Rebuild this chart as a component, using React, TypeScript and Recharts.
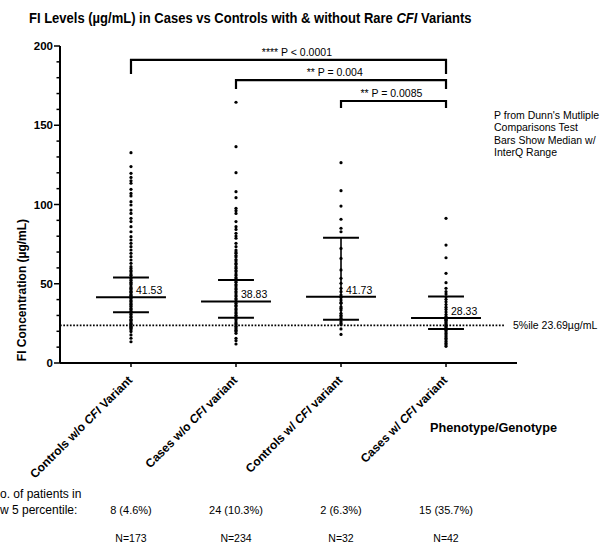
import React from "react";
import { ComposedChart, Scatter, XAxis, YAxis, ReferenceLine } from "recharts";

const FONT = "'Liberation Sans', Arial, Helvetica, sans-serif";

// ===== categories / labels =====
const labelParts = [
  ["Controls w/o ", "CFI", " Variant"],
  ["Cases w/o ", "CFI", " variant"],
  ["Controls w/ ", "CFI", " variant"],
  ["Cases w/ ", "CFI", " variant"],
];
const below5 = ["8 (4.6%)", "24 (10.3%)", "2 (6.3%)", "15 (35.7%)"];
const counts = ["N=173", "N=234", "N=32", "N=42"];

// ===== summary stats (median + IQR) =====
const medians = [41.53, 38.83, 41.73, 28.33];
const q1 = [32.0, 28.6, 27.3, 21.5];
const q3 = [54.0, 52.4, 79.0, 42.0];
const percentile5 = 23.69;

// ===== individual values =====
const controlsNoVariant = [
  132.7, 123.9, 119.7, 117.1, 115.0, 113.4, 109.6, 107.0, 105.4, 101.8, 99.7,
  96.5, 94.4, 91.3, 89.2, 86.0, 82.8, 79.7, 77.6, 75.5, 73.4, 71.3, 69.2, 67.1,
  65.0, 62.9, 60.8, 59.6, 58.3, 57.5, 56.2, 55.3, 54.0, 53.1, 52.2, 51.0, 50.1,
  49.3, 48.0, 47.2, 46.3, 45.3, 44.6, 43.5, 42.8, 41.9, 41.1, 40.5, 39.4, 38.8,
  37.8, 37.1, 36.1, 35.5, 34.4, 33.8, 32.7, 32.1, 31.0, 30.4, 29.3, 28.7, 27.6,
  26.9, 26.1, 25.1, 24.4, 23.2, 22.5, 21.9, 20.9, 19.8, 17.7, 15.6, 13.4,
];
const casesNoVariant = [
  164.5, 136.5, 120.1, 108.1, 104.3, 97.6, 96.1, 94.4, 89.2, 86.0, 84.3, 81.8,
  80.1, 78.7, 75.5, 73.4, 71.3, 70.1, 69.2, 67.8, 66.9, 65.3, 64.4, 63.0, 62.1,
  60.7, 59.8, 58.4, 57.5, 56.1, 55.2, 53.9, 53.1, 51.7, 50.9, 49.5, 48.6, 47.3,
  46.4, 45.1, 44.2, 42.9, 42.0, 40.7, 39.9, 38.6, 37.7, 36.5, 35.6, 34.3, 33.5,
  32.2, 31.3, 30.1, 29.2, 27.9, 27.1, 25.8, 24.9, 24.1, 23.2, 22.3, 21.4, 20.6,
  19.8, 18.7, 15.6, 14.1, 12.0,
];
const controlsVariant = [
  126.4, 108.7, 99.0, 90.7, 85.0, 82.8, 72.3, 66.0, 58.7, 53.4, 50.3, 47.1, 45.0,
  42.9, 41.7, 41.4, 39.7, 38.2, 37.7, 35.5, 34.6, 33.4, 31.4, 30.2, 29.2, 28.1,
  27.6, 26.1, 25.0, 24.2, 21.5, 18.0,
];
const casesVariant = [
  91.3, 74.4, 66.4, 56.6, 50.7, 47.1, 45.0, 43.5, 41.8, 40.2, 38.6, 36.9, 35.2,
  33.8, 32.1, 30.6, 29.3, 28.4, 27.6, 27.0, 26.5, 25.6, 24.7, 24.0, 23.2, 22.4,
  21.6, 20.6, 19.6, 18.6, 17.6, 16.6, 15.6, 14.6, 13.5, 12.5, 11.5, 10.5,
];
const groups = [controlsNoVariant, casesNoVariant, controlsVariant, casesVariant];

// ===== significance brackets =====
const bracketFrom = [1, 2, 3];
const bracketTo = [4, 4, 4];
const bracketTop = [191.2, 178.5, 165.3];
const bracketFoot = [182.3, 172.9, 160.9];
const bracketLabelX = [2.58, 2.94, 3.48];
const bracketLabels = ["**** P < 0.0001", "** P = 0.004", "** P = 0.0085"];

const yTicks = [0, 10, 20, 30, 40, 50, 60, 70, 80, 90, 100, 110, 120, 130, 140, 150, 160, 170, 180, 190, 200];

function YTick(props: any) {
  const { x, y, payload } = props;
  const major = payload.value % 50 === 0;
  return (
    <g>
      <line x1={x - (major ? 6 : 3.5)} x2={x} y1={y} y2={y} stroke="#000" strokeWidth={1.5} />
      {major && (
        <text x={x - 7} y={y} dy={4} textAnchor="end" fontSize={11.5} fontWeight="bold" fill="#000" fontFamily={FONT}>
          {payload.value}
        </text>
      )}
    </g>
  );
}

function XTick(props: any) {
  const { x, y, payload } = props;
  const i = payload.value - 1;
  const [a, b, c] = labelParts[i];
  const ax = x + 2;
  const ay = y + 18;
  return (
    <g fontFamily={FONT} fill="#000">
      <line x1={x} x2={x} y1={y} y2={y + 4} stroke="#000" strokeWidth={1.5} />
      <text x={ax} y={ay} textAnchor="end" transform={`rotate(-45 ${ax} ${ay})`} fontSize={12} fontWeight="bold">
        <tspan>{a}</tspan>
        <tspan fontStyle="italic">{b}</tspan>
        <tspan>{c}</tspan>
      </text>
      <text x={x} y={514} textAnchor="middle" fontSize={11}>{below5[i]}</text>
      <text x={x} y={541.5} textAnchor="middle" fontSize={10.5}>{counts[i]}</text>
    </g>
  );
}

const dot = (p: any) => <circle cx={p.cx} cy={p.cy} r={1.6} fill="#000" />;
const none = () => <g />;

export default function App() {
  const medianPts = medians.map((m, i) => ({ x: i + 1, y: m, label: m.toFixed(2) }));
  const bracketLabelPts = bracketLabels.map((l, i) => ({ x: bracketLabelX[i], y: bracketTop[i], label: l }));

  return (
    <div style={{ position: "absolute", left: 0, top: 0, width: 600, height: 544, background: "#fff", fontFamily: FONT }}>
      <ComposedChart width={600} height={544} margin={{ top: 46, right: 83, bottom: 0, left: 0 }}>
        <XAxis
          type="number"
          dataKey="x"
          domain={[0.324, 4.676]}
          ticks={[1, 2, 3, 4]}
          interval={0}
          tick={<XTick />}
          tickLine={false}
          tickSize={0}
          tickMargin={0}
          height={181}
          axisLine={{ stroke: "#000", strokeWidth: 2 }}
        />
        <YAxis
          type="number"
          dataKey="y"
          domain={[0, 200]}
          ticks={yTicks}
          interval={0}
          tick={<YTick />}
          tickLine={false}
          tickSize={0}
          tickMargin={0}
          width={60}
          axisLine={{ stroke: "#000", strokeWidth: 2 }}
        />

        {/* 5th percentile */}
        <ReferenceLine
          segment={[{ x: 0.324, y: percentile5 }, { x: 4.562, y: percentile5 }]}
          stroke="#000"
          strokeWidth={1.8}
          strokeDasharray="1.7 1.6"
        />

        {/* dots */}
        {groups.map((g, i) => (
          <Scatter
            key={i}
            data={g.map((v) => ({ x: i + 1, y: v }))}
            shape={dot}
            isAnimationActive={false}
          />
        ))}

        {/* median + IQR */}
        {medians.map((m, i) => (
          <ReferenceLine key={"m" + i} segment={[{ x: i + 1 - 0.333, y: m }, { x: i + 1 + 0.333, y: m }]} stroke="#000" strokeWidth={2} />
        ))}
        {q1.map((v, i) => (
          <ReferenceLine key={"q1" + i} segment={[{ x: i + 1 - 0.171, y: v }, { x: i + 1 + 0.171, y: v }]} stroke="#000" strokeWidth={2} />
        ))}
        {q3.map((v, i) => (
          <ReferenceLine key={"q3" + i} segment={[{ x: i + 1 - 0.171, y: v }, { x: i + 1 + 0.171, y: v }]} stroke="#000" strokeWidth={2} />
        ))}
        {q1.map((v, i) => (
          <ReferenceLine key={"iq" + i} segment={[{ x: i + 1, y: v }, { x: i + 1, y: q3[i] }]} stroke="#000" strokeWidth={1.6} />
        ))}
        <Scatter
          data={medianPts}
          isAnimationActive={false}
          shape={(p: any) => (
            <text x={p.cx + 5} y={p.cy - 3} fontSize={10.5} fill="#000" fontFamily={FONT}>
              {p.payload.label}
            </text>
          )}
        />

        {/* brackets */}
        {bracketFrom.map((f, i) => (
          <Scatter
            key={"b" + i}
            data={[
              { x: f, y: bracketFoot[i] },
              { x: f, y: bracketTop[i] },
              { x: bracketTo[i], y: bracketTop[i] },
              { x: bracketTo[i], y: bracketFoot[i] },
            ]}
            line={{ stroke: "#000", strokeWidth: 2.2, fill: "none" }}
            lineType="joint"
            shape={none}
            isAnimationActive={false}
          />
        ))}
        <Scatter
          data={bracketLabelPts}
          isAnimationActive={false}
          shape={(p: any) => (
            <text x={p.cx} y={p.cy - 4} textAnchor="middle" fontSize={10.5} fill="#000" fontFamily={FONT}>
              {p.payload.label}
            </text>
          )}
        />

        {/* 5%ile label */}
        <Scatter
          data={[{ x: 4.638, y: percentile5 }]}
          isAnimationActive={false}
          shape={(p: any) => (
            <text x={p.cx} y={p.cy} dy={3.8} fontSize={10.5} fill="#000" fontFamily={FONT}>
              5%ile 23.69µg/mL
            </text>
          )}
        />
      </ComposedChart>

      <svg width={600} height={544} style={{ position: "absolute", left: 0, top: 0, pointerEvents: "none" }} fontFamily={FONT} fill="#000">
        <g transform="translate(29 23.4) scale(0.868 1)">
          <text x={0} y={0} fontSize={15} fontWeight="bold">
            FI Levels (µg/mL) in Cases vs Controls with &amp; without Rare <tspan fontStyle="italic">CFI</tspan> Variants
          </text>
        </g>
        <text x={22} y={290} fontSize={12} fontWeight="bold" textAnchor="middle" dy={4} transform="rotate(-90 22 290)">
          FI Concentration (µg/mL)
        </text>
        <text x={430} y={431.5} fontSize={13} fontWeight="bold" textLength={127} lengthAdjust="spacingAndGlyphs">
          Phenotype/Genotype
        </text>
        <g fontSize={10.5}>
          <text x={494} y={118.7}>P from Dunn's Mutliple</text>
          <text x={494} y={131.2}>Comparisons Test</text>
          <text x={494} y={143.8}>Bars Show Median w/</text>
          <text x={494} y={156.4}>InterQ Range</text>
        </g>
        <text x={0} y={497.5} fontSize={12}>o. of patients in</text>
        <text x={0} y={514} fontSize={12}>w 5 percentile:</text>
      </svg>
    </div>
  );
}
